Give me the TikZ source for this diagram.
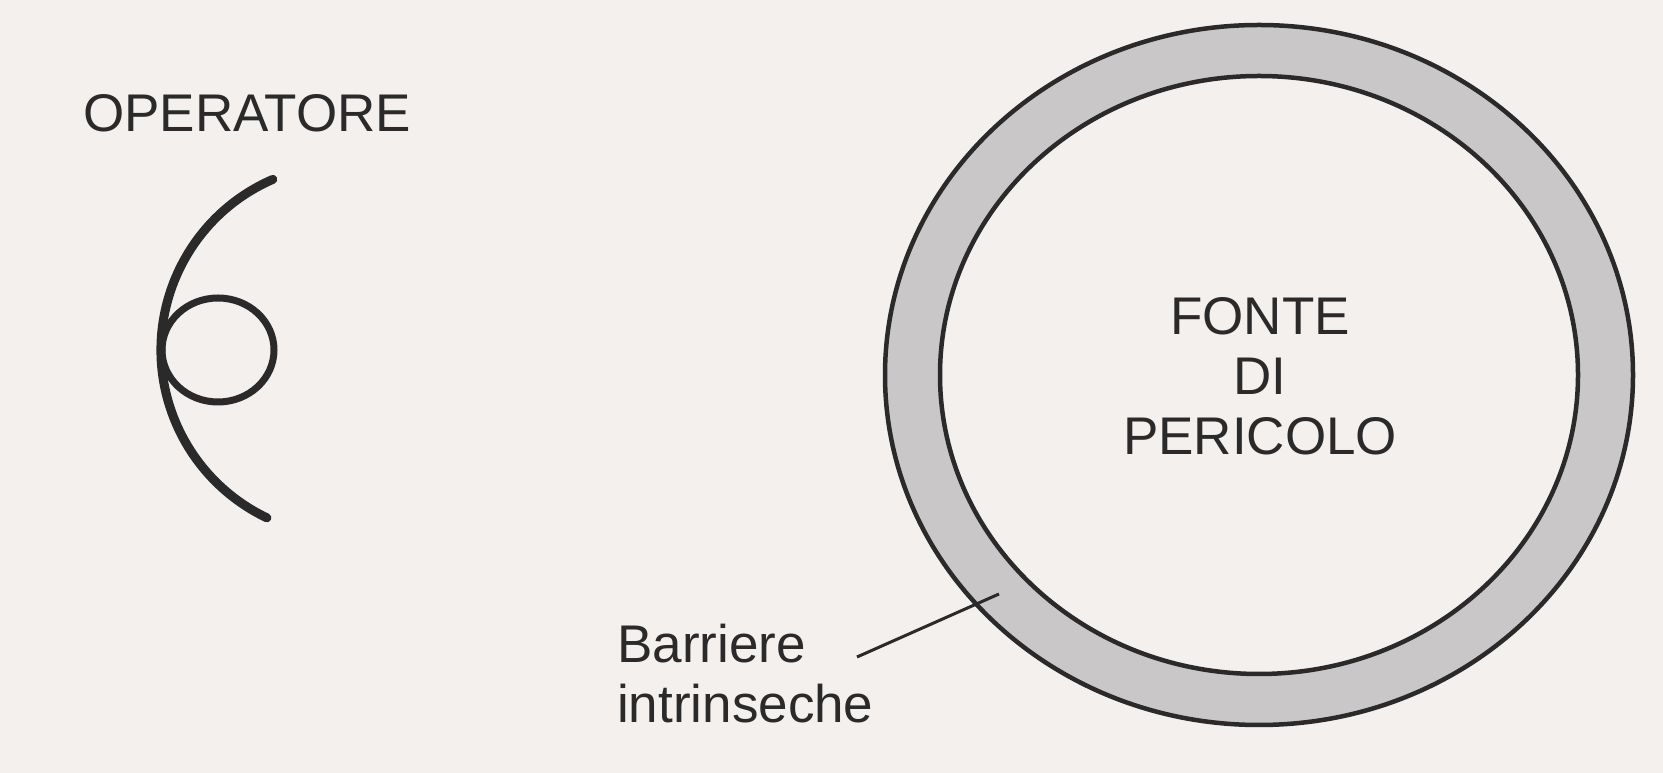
\documentclass[tikz,border=0pt]{standalone}
\usepackage{fontspec}
\setmainfont{Liberation Sans}
\definecolor{paper}{HTML}{F3F0EE}
\definecolor{band}{HTML}{C9C7C8}
\definecolor{ink}{HTML}{2A2A2A}
\begin{document}
\begin{tikzpicture}[x=1pt,y=1pt,
  lbl/.style={inner sep=0pt, text=ink, font=\fontsize{53}{60}\selectfont},
  ringline/.style={draw=ink, line width=4.5pt},
  figline/.style={draw=ink, line width=9pt}]
\useasboundingbox (0,0) rectangle (1663,773);
\fill[paper] (0,0) rectangle (1663,773);
% operator
\node[lbl, anchor=base west] (op) at (83,641) {OPERATORE};
\coordinate (arcstart) at (272.8,593.6);
\draw[figline, line cap=round] (arcstart) arc[start angle=113.5, end angle=244.5, radius=186];
\draw[figline, line width=7pt] (218,423) ellipse[x radius=56, y radius=52];
% hazard ring
\filldraw[ringline, fill=band] (1259,398) ellipse[x radius=374, y radius=350];
\filldraw[ringline, fill=paper] (1259,398) ellipse[x radius=319, y radius=299];
\node[lbl, anchor=base, align=center] (src) at (1260,318) {FONTE\\DI\\PERICOLO};
% barrier label
\node[lbl, anchor=base west, align=left] (bar) at (617,50) {Barriere\\intrinseche};
\coordinate (lstart) at (857,116);
\coordinate (lend) at (999,179);
\draw[ink, line width=3pt] (lstart) -- (lend);
\end{tikzpicture}
\end{document}
